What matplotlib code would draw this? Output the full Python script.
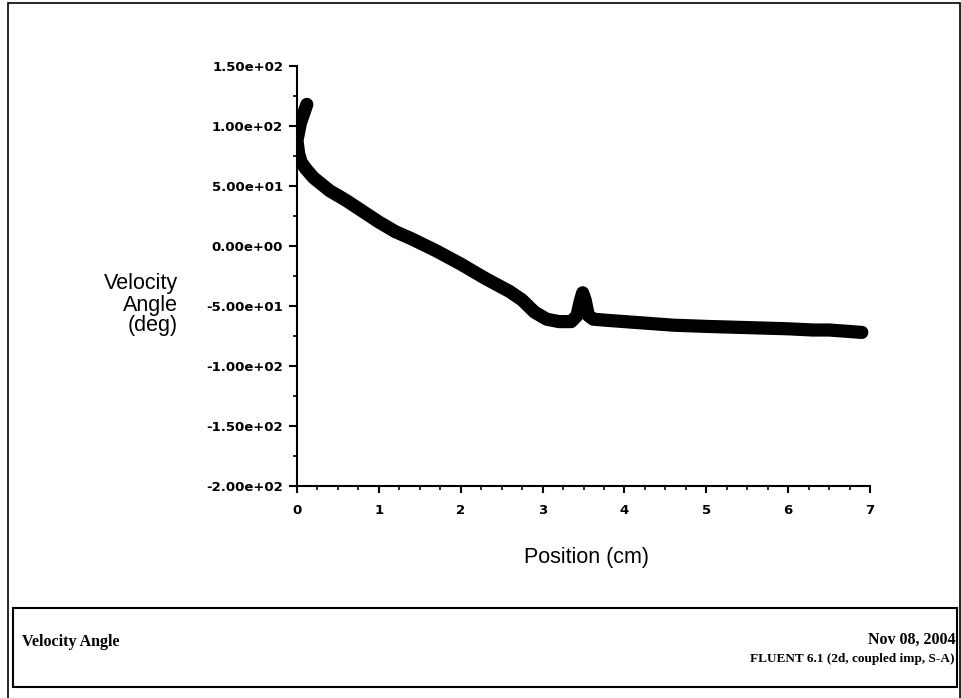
import matplotlib
matplotlib.use("Agg")
import matplotlib.pyplot as plt
from matplotlib.patches import Rectangle
from matplotlib.ticker import MultipleLocator

# velocity angle along the line
position_cm = [0.12, 0.08, 0.04, 0.00, 0.02, 0.05, 0.10, 0.20, 0.40, 0.60,
               0.80, 1.00, 1.20, 1.40, 1.70, 2.00, 2.30, 2.60, 2.75, 2.90,
               3.05, 3.20, 3.35, 3.42, 3.46, 3.49, 3.52, 3.56, 3.62, 3.80,
               4.20, 4.60, 5.00, 5.50, 6.00, 6.30, 6.50, 6.90]
angle_deg = [118, 110, 102, 88, 77, 70, 65, 57, 46, 38,
             29, 20, 12, 6, -4, -15, -27, -38, -45, -55,
             -61, -63, -63, -58, -46, -39, -45, -58, -61, -62,
             -64, -66, -67, -68, -69, -70, -70, -72]

x_ticks = [0, 1, 2, 3, 4, 5, 6, 7]
y_ticks = [150, 100, 50, 0, -50, -100, -150, -200]
y_labels = ["{:.2e}".format(v) for v in y_ticks]

W, H = 961, 698
fig = plt.figure(figsize=(W / 100, H / 100), dpi=100)

# outer frame and the footer box (pixel coords -> figure fraction)
def px_rect(x0, y0, x1, y1, lw):
    fig.patches.append(Rectangle((x0 / W, 1 - y1 / H), (x1 - x0) / W, (y1 - y0) / H,
                                 transform=fig.transFigure, fill=False,
                                 ec="black", lw=lw))

px_rect(8, 3, 960, 705, 1.2)
px_rect(13, 608, 957, 687, 1.5)

ax = fig.add_axes([297 / W, 1 - 486 / H, (870 - 297) / W, (486 - 66) / H])
ax.plot(position_cm, angle_deg, color="black", lw=9.5,
        solid_capstyle="round", solid_joinstyle="round")

ax.set_xlim(0, 7)
ax.set_ylim(-200, 150)
for s in ("top", "right"):
    ax.spines[s].set_visible(False)
ax.spines["left"].set_linewidth(1.5)
ax.spines["bottom"].set_linewidth(1.5)

tick_font = dict(family="DejaVu Sans", weight="bold", size=9.5)
ax.set_xticks(x_ticks)
ax.set_xticklabels([str(v) for v in x_ticks], **tick_font)
ax.set_yticks(y_ticks)
ax.set_yticklabels(y_labels, **tick_font)
ax.xaxis.set_minor_locator(MultipleLocator(0.25))
ax.yaxis.set_minor_locator(MultipleLocator(25))
ax.tick_params(axis="y", which="major", length=6, width=1.5, pad=4)
ax.tick_params(axis="y", which="minor", length=3, width=1.2)
ax.tick_params(axis="x", which="major", length=5, width=1.5, pad=8)
ax.tick_params(axis="x", which="minor", length=3, width=1.2)

label_font = dict(family="Liberation Sans", size=15.5)
fig.text(587 / W, 1 - 558 / H, "Position (cm)", ha="center", va="center", **label_font)
fig.text(178 / W, 1 - 305 / H, "Velocity\nAngle\n(deg)", ha="right", va="center",
         multialignment="right", linespacing=1.0, **label_font)

foot_font = dict(family="Liberation Serif", weight="bold")
fig.text(22 / W, 1 - 642 / H, "Velocity Angle", ha="left", va="center",
         size=11.5, **foot_font)
fig.text(955 / W, 1 - 640 / H, "Nov 08, 2004", ha="right", va="center",
         size=11.5, **foot_font)
fig.text(955 / W, 1 - 659 / H, "FLUENT 6.1 (2d, coupled imp, S-A)", ha="right",
         va="center", size=9.5, **foot_font)

fig.savefig("out.png", dpi=100)
